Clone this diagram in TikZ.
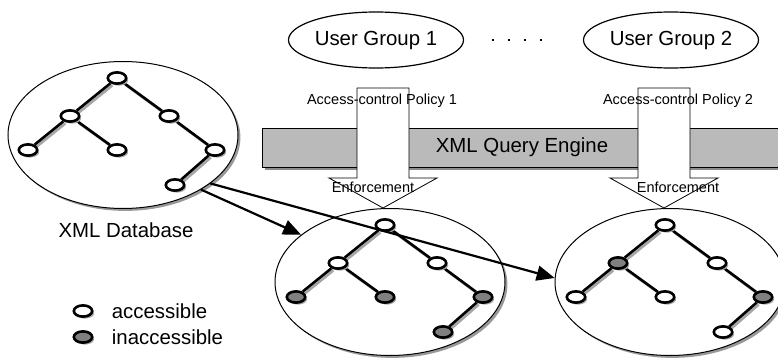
\documentclass[tikz,border=0pt]{standalone}
\usepackage{fontspec}
\setmainfont{Liberation Sans}
\usetikzlibrary{calc,positioning,shapes.geometric,shadows,arrows.meta}

\pgfdeclarelayer{pool}
\pgfdeclarelayer{edgelayer}
\pgfsetlayers{pool,edgelayer,main}

\tikzset{
  bigtext/.style={font=\fontsize{10.2}{12}\selectfont},
  smalltext/.style={font=\fontsize{7.25}{9}\selectfont},
  tnode/.style={ellipse, draw, line width=1.3pt, minimum width=9.2pt, minimum height=5.6pt, inner sep=0pt,
    drop shadow={shadow xshift=1pt, shadow yshift=-1pt, fill=black!35, opacity=1}},
  acc/.style={tnode, fill=white},
  inacc/.style={tnode, fill=black!50},
  tedge/.style={line width=1.3pt,
    preaction={draw, black!35, line width=1.3pt, transform canvas={shift={(1pt,-1pt)}}}},
  dbpool/.style={ellipse, draw, line width=0.5pt, fill=white, inner sep=0pt,
    minimum width=115pt, minimum height=73.5pt,
    drop shadow={shadow xshift=1.2pt, shadow yshift=-1.2pt, fill=black!40, opacity=1}},
  usergroup/.style={ellipse, draw, line width=0.6pt, minimum width=87.5pt, minimum height=28pt, inner sep=0pt, bigtext},
  engine/.style={rectangle, draw, line width=0.5pt, fill=black!27, minimum width=260pt, minimum height=19.5pt,
    inner sep=0pt, bigtext,
    drop shadow={shadow xshift=1.5pt, shadow yshift=-1.5pt, fill=black!45, opacity=1}},
  policy/.style={draw, line width=0.4pt, fill=white},
  feed/.style={line width=1.1pt, -{Triangle[length=9pt,width=7.5pt]}}
}

% seven-node tree: #1 prefix, #2 root, #3..#9 node styles
\newcommand{\xmltree}[9]{%
  \node[#3] (#1r) at (#2) {};
  \node[#4] (#1a) at ($(#1r)+(-47,38)$) {};
  \node[#5] (#1aa) at ($(#1r)+(-89,72)$) {};
  \node[#6] (#1ab) at ($(#1r)+(0,72)$) {};
  \node[#7] (#1b) at ($(#1r)+(52,38)$) {};
  \node[#8] (#1bb) at ($(#1r)+(98,72)$) {};
  \node[#9] (#1bba) at ($(#1r)+(58,107)$) {};
  \begin{pgfonlayer}{edgelayer}
    \foreach \u/\v in {r/a,a/aa,a/ab,r/b,b/bb,bb/bba}
      \draw[tedge] (#1\u) -- (#1\v);
  \end{pgfonlayer}
}

% block arrow pointing down to #1
\newcommand{\policyarrow}[1]{%
  \begin{scope}[shift={(#1)}]
    \draw[policy] (-26,-120) -- (26,-120) -- (26,-30) -- (54,-30) -- (0,0)
      -- (-54,-30) -- (-26,-30) -- cycle;
  \end{scope}
}

\begin{document}
\begin{tikzpicture}[x=0.5pt,y=-0.5pt]
  \useasboundingbox (0,0) rectangle (778,364);

  %%% engine and policies
  \node[engine] (qe) at (522,147.5) {XML Query Engine};

  \coordinate (enf1) at (383,208);
  \coordinate (enf2) at (664,208);
  \policyarrow{enf1}
  \policyarrow{enf2}

  \node[smalltext] (pol1) at (382,101) {Access-control Policy 1};
  \node[smalltext] (pol2) at (678,101) {Access-control Policy 2};
  \node[smalltext] (enft1) at (373,187) {Enforcement};
  \node[smalltext] (enft2) at (678,187) {Enforcement};

  %%% user groups
  \node[usergroup] (ug1) at (376,40) {User Group 1};
  \node[usergroup] (ug2) at (671,40) {User Group 2};
  \foreach \x in {493,509,525,541}
    \fill (\x-1.2,38.8) rectangle +(2.4,2.4);

  %%% database and views
  \begin{pgfonlayer}{pool}
    \node[dbpool] (xmldb) at (123,135) {};
    \node[dbpool] (view1) at (390,282) {};
    \node[dbpool] (view2) at (670,282) {};
  \end{pgfonlayer}
  \node[bigtext] (dblabel) at (126,230) {XML Database};

  \xmltree{d}{117,78}{acc}{acc}{acc}{acc}{acc}{acc}{acc}
  \xmltree{p}{385,225}{acc}{acc}{inacc}{inacc}{acc}{inacc}{inacc}
  \xmltree{q}{665,225}{acc}{inacc}{acc}{acc}{acc}{inacc}{acc}

  %%% legend
  \node[acc] (lacc) at (83,311) {};
  \node[inacc] (linacc) at (83,337) {};
  \node[bigtext, inner sep=0pt, right=9pt of lacc] (tacc) {accessible};
  \node[bigtext, inner sep=0pt, right=9pt of linacc] (tinacc) {inaccessible};

  %%% feeds
  \draw[feed] (xmldb.-35) -- (view1.152);
  \draw[feed] (xmldb.-29) -- (view2.178);
\end{tikzpicture}
\end{document}
